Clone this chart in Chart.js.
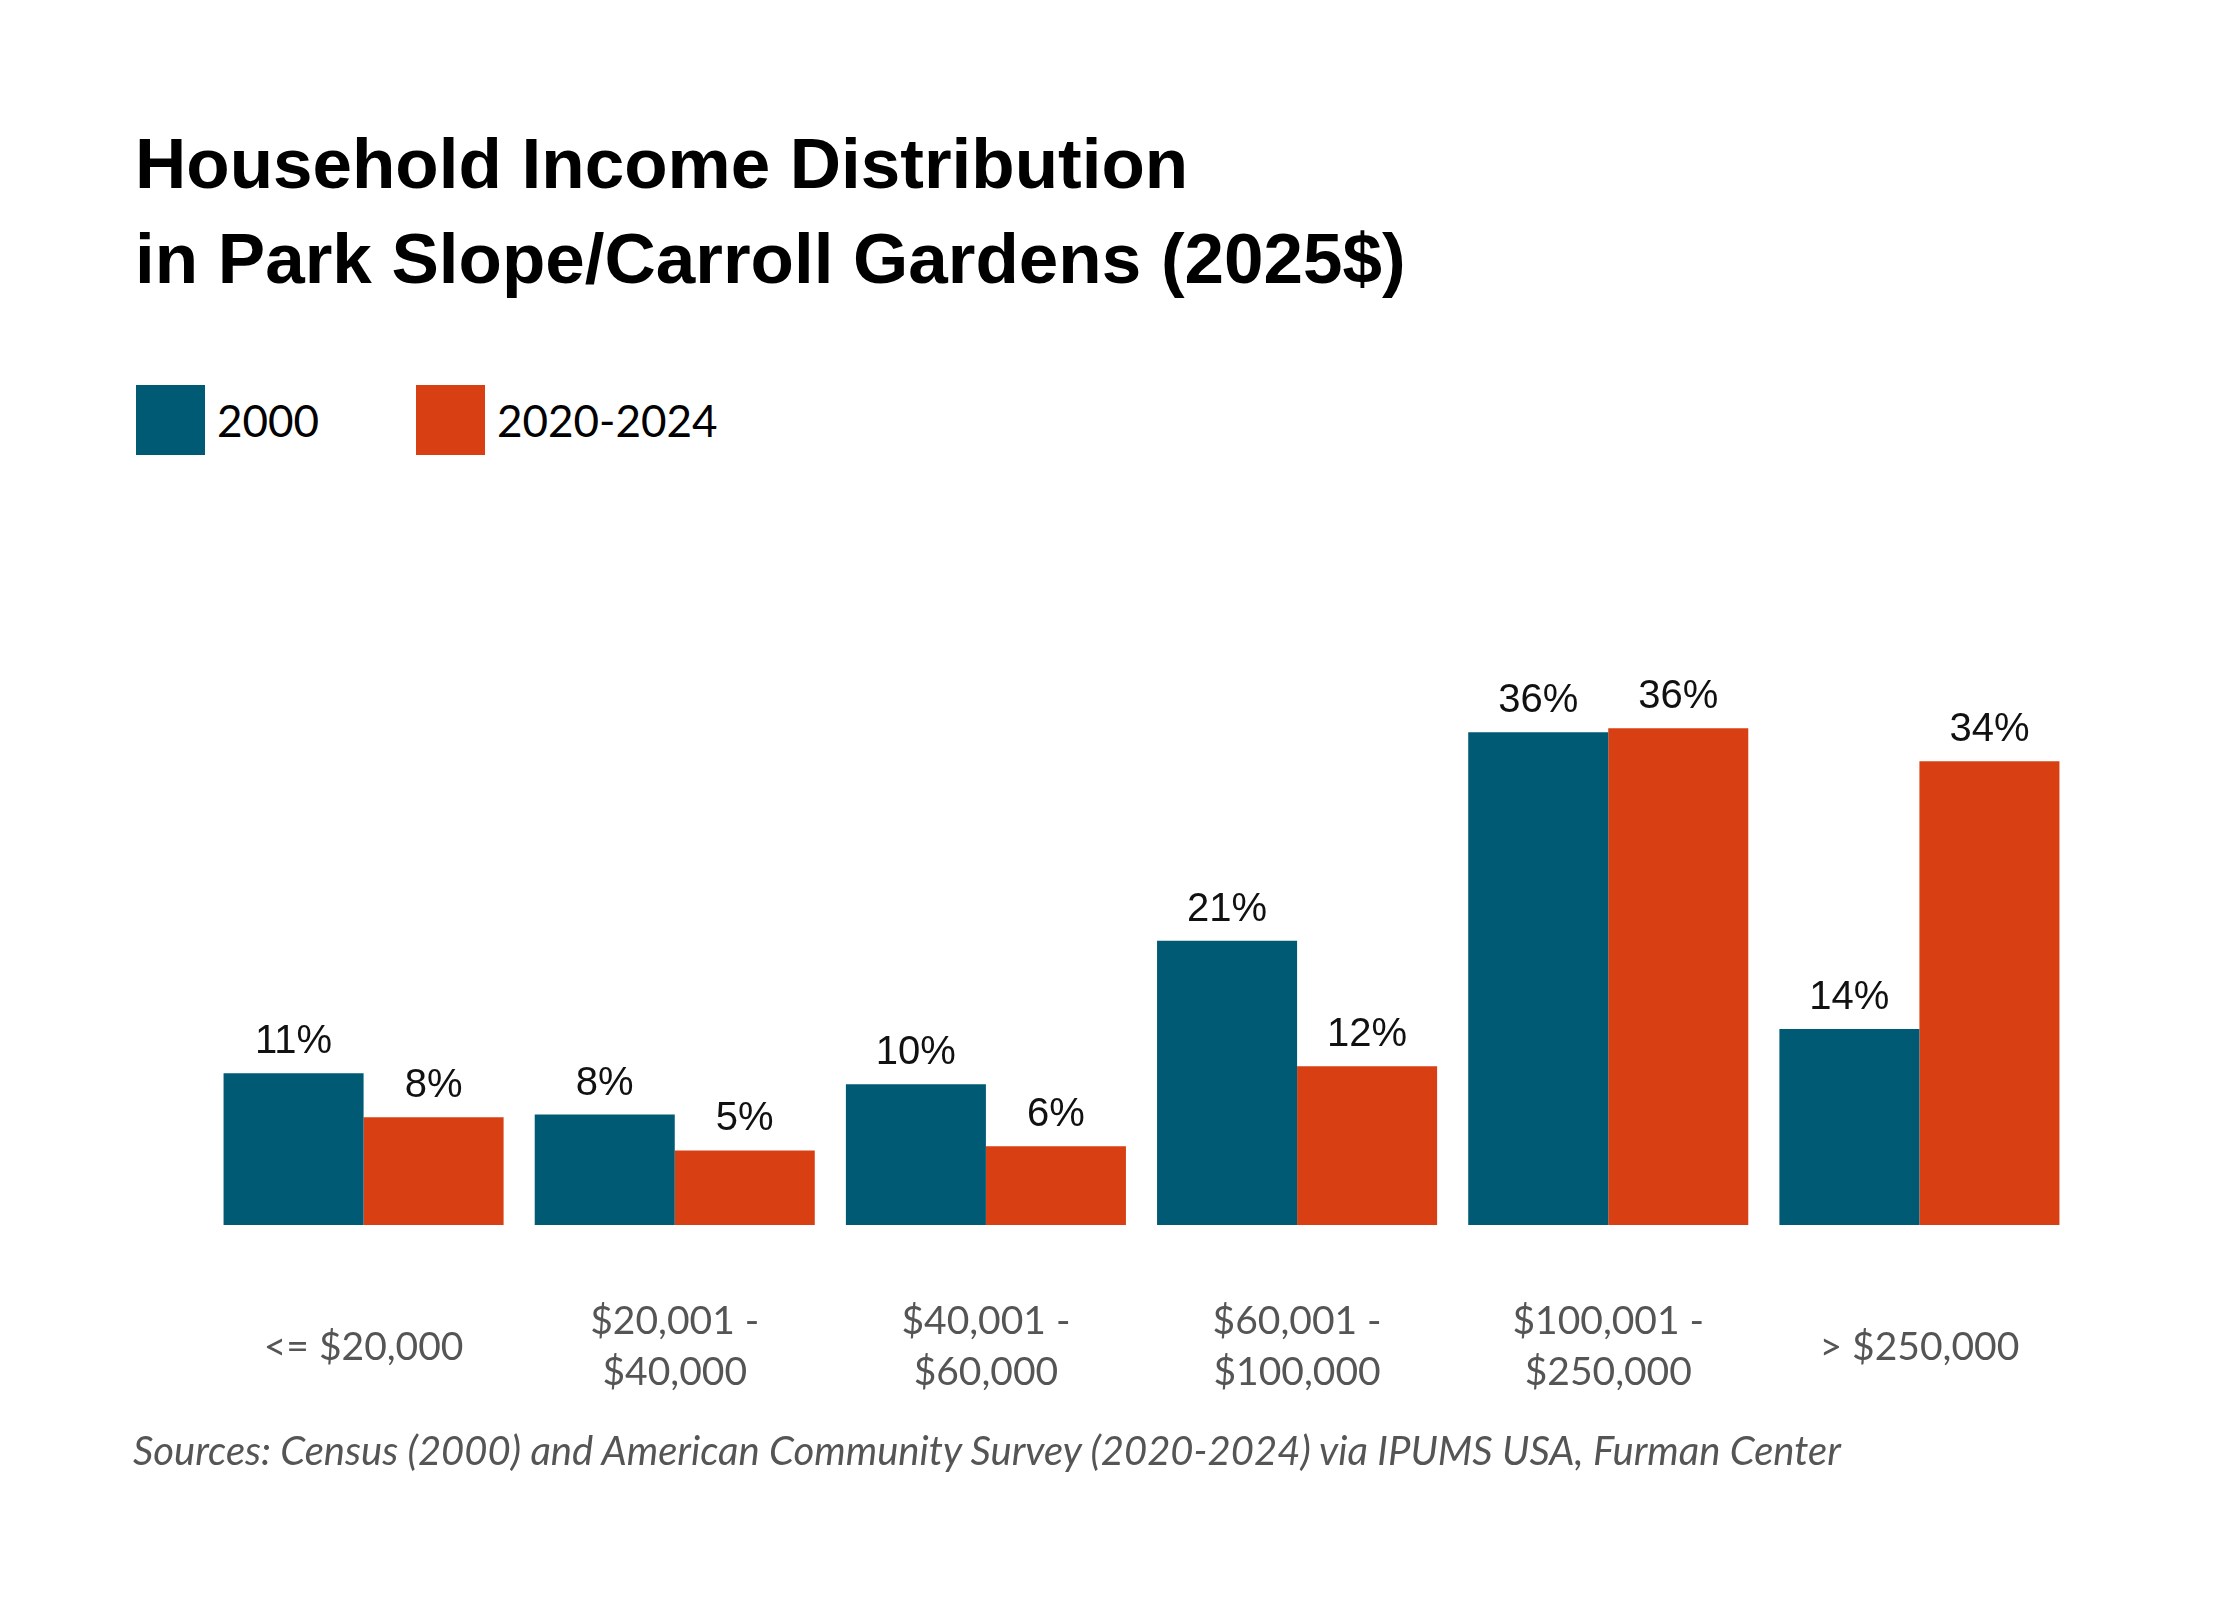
<!DOCTYPE html>
<html>
<head>
<meta charset="utf-8">
<script src="https://cdn.jsdelivr.net/npm/chart.js@4.4.1/dist/chart.umd.min.js"></script>
<style>
  html, body { margin: 0; padding: 0; background: #fff; }
  #wrap { position: relative; width: 2240px; height: 1600px; overflow: hidden; }
  #chartBox { position: absolute; left: 0; top: 0; width: 2240px; height: 1600px; }
  .title {
    position: absolute; left: 135px; top: 116px;
    font-family: "Liberation Sans", Arial, sans-serif;
    font-weight: 700; font-size: 71px; line-height: 95px; color: #000;
    white-space: nowrap;
  }
  .legend { position: absolute; left: 0; top: 385px; height: 70px; }
  .legend-item { position: absolute; top: 0; height: 70px; white-space: nowrap; }
  .legend-box { position: absolute; left: 0; top: 0; width: 69px; height: 70px; }
  .legend-text {
    position: absolute; left: 81px; top: 0; line-height: 70px;
    font-family: Lato, "Open Sans", sans-serif; font-size: 44px; color: #000;
  }
  .source {
    position: absolute; left: 133px; top: 1426px;
    font-family: Lato, "Open Sans", sans-serif; font-style: italic;
    font-size: 40px; line-height: 48px; color: #555; white-space: nowrap;
  }
</style>
</head>
<body>
<div id="wrap">
  <div class="title">Household Income Distribution<br>in Park Slope/Carroll Gardens (2025$)</div>
  <div class="legend" id="legend"></div>
  <div id="chartBox"><canvas id="incomeChart"></canvas></div>
  <div class="source">Sources: Census (2000) and American Community Survey (2020-2024) via IPUMS USA, Furman Center</div>
</div>
<script>
// income brackets, split in two lines for the axis
const categories = [
    ['<= $20,000'],
    ['$20,001 -', '$40,000'],
    ['$40,001 -', '$60,000'],
    ['$60,001 -', '$100,000'],
    ['$100,001 -', '$250,000'],
    ['> $250,000']
];
const seriesNames = ['2000', '2020-2024'];
const values2000 = [11.0, 8.0, 10.2, 20.6, 35.7, 14.2];
const values2024 = [7.8, 5.4, 5.7, 11.5, 36.0, 33.6];
const colors = ['#005A74', '#D84014'];

// "xx%" above every bar
const valueLabels = {
    id: 'valueLabels',
    afterDatasetsDraw(chart) {
        const ctx = chart.ctx;
        ctx.save();
        ctx.font = '40px "Liberation Sans", Arial, sans-serif';
        ctx.fillStyle = '#111';
        ctx.textAlign = 'center';
        ctx.textBaseline = 'alphabetic';
        chart.data.datasets.forEach((ds, i) => {
            chart.getDatasetMeta(i).data.forEach((bar, j) => {
                ctx.fillText(Math.round(ds.data[j]) + '%', bar.x, bar.y - 20);
            });
        });
        ctx.restore();
    }
};

function buildLegend() {
    const legend = document.getElementById('legend');
    const lefts = [136, 416];
    legend.innerHTML = seriesNames.map((name, i) => `
        <div class="legend-item" style="left: ${lefts[i]}px;">
            <span class="legend-box" style="background: ${colors[i]};"></span>
            <span class="legend-text">${name}</span>
        </div>
    `).join('');
}

document.addEventListener('DOMContentLoaded', function() {
    buildLegend();
    const ctx = document.getElementById('incomeChart').getContext('2d');

    new Chart(ctx, {
        type: 'bar',
        data: {
            labels: categories,
            datasets: [
                { label: seriesNames[0], data: values2000, backgroundColor: colors[0] },
                { label: seriesNames[1], data: values2024, backgroundColor: colors[1] }
            ]
        },
        options: {
            responsive: true,
            maintainAspectRatio: false,
            animation: false,
            datasets: {
                bar: { categoryPercentage: 0.9, barPercentage: 1.0 }
            },
            layout: {
                padding: { left: 208, right: 165, top: 673, bottom: 175 }
            },
            plugins: {
                legend: { display: false },
                tooltip: { enabled: false }
            },
            scales: {
                x: {
                    grid: { display: false },
                    border: { display: false },
                    afterFit(scale) { scale.height = 200; },
                    ticks: {
                        padding: 88,
                        crossAlign: 'center',
                        maxRotation: 0,
                        color: '#555',
                        font: { family: 'Lato, "Open Sans", sans-serif', size: 39, lineHeight: 1.33 }
                    }
                },
                y: {
                    display: false,
                    min: 0,
                    max: 40
                }
            }
        },
        plugins: [valueLabels]
    });
});
</script>
</body>
</html>
